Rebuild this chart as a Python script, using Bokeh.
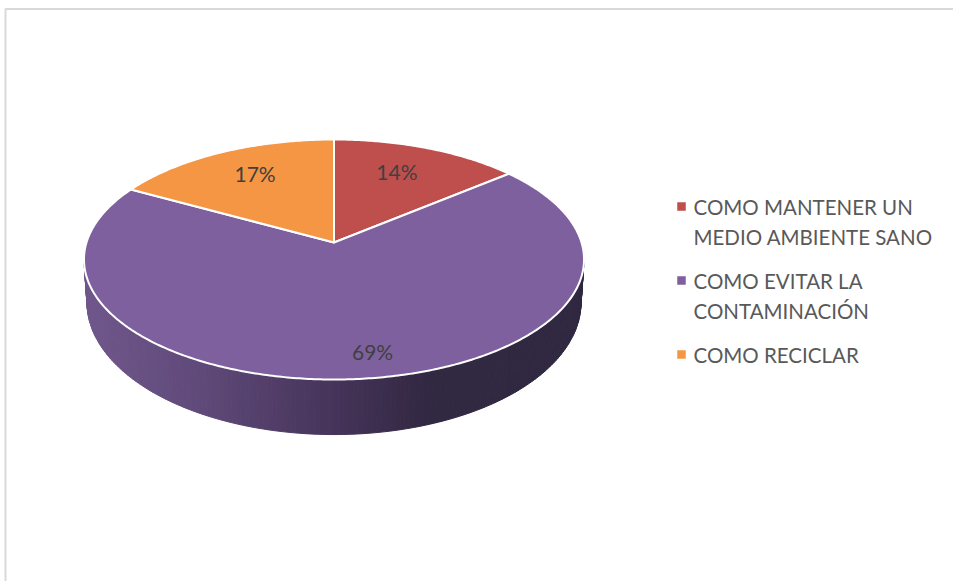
import numpy as np
from bokeh.plotting import figure
from bokeh.embed import file_html
from bokeh.resources import INLINE
from bokeh.core.properties import value

categories = ["COMO MANTENER UN MEDIO AMBIENTE SANO", "COMO EVITAR LA CONTAMINACIÓN", "COMO RECICLAR"]
legend_lines = [["COMO MANTENER UN", "MEDIO AMBIENTE SANO"], ["COMO EVITAR LA", "CONTAMINACIÓN"], ["COMO RECICLAR"]]
values = [14, 69, 17]
labels = ["14%", "69%", "17%"]
colors = ["#BE4F4D", "#7F609E", "#F59645"]

W, H = 953, 581
CX = 334.5
K = 0.1417


def project(theta, r=1.0, level="top"):
    """theta clockwise from the far point of the disc, r radial fraction."""
    u = r * np.sin(theta)
    v = r * np.cos(theta)
    w = 1 + K * v
    if level == "top":
        A, a, b = 247.5, 117.6, 243.0
    else:
        A, a, b = 244.5, 129.4, 284.3
    return CX + A * u / w, b - a * v / w


p = figure(width=W, height=H, x_range=(1, W + 1), y_range=(H + 1, 1), output_backend="svg",
           toolbar_location=None, min_border=0, outline_line_color=None,
           background_fill_color="white", border_fill_color="white")
p.xaxis.visible = False
p.yaxis.visible = False
p.xgrid.visible = False
p.ygrid.visible = False

# frame of the chart area
p.line([6, 6, W + 1], [H + 1, 9.5, 9.5], line_color="#D9D9D9", line_width=2)

# side wall with horizontal gradient
stop_x = [84, 200, 334, 430, 585]
stop_r = [112, 96, 70, 50, 48]
stop_g = [87, 74, 52, 40, 40]
stop_b = [140, 122, 90, 66, 64]
edges = np.radians(np.linspace(98.2, 261.8, 171))
xs, ys, cs = [], [], []
for t0, t1 in zip(edges[:-1], edges[1:]):
    xa, ya = project(t0)
    xb, yb = project(t1)
    xc, yc = project(t1, level="bottom")
    xd, yd = project(t0, level="bottom")
    xm = (xa + xb + xc + xd) / 4
    c = (int(np.interp(xm, stop_x, stop_r)), int(np.interp(xm, stop_x, stop_g)), int(np.interp(xm, stop_x, stop_b)))
    xs.append([xa, xb, xc, xd])
    ys.append([ya, yb, yc, yd])
    cs.append("#%02x%02x%02x" % c)
p.patches(xs, ys, fill_color=cs, line_color=cs, line_width=1)

# top of the pie, from the values
total = sum(values)
start = 0.0
mids = []
wx, wy = [], []
for v in values:
    end = start + 2 * np.pi * v / total
    th = np.linspace(start, end, max(int(v * 6), 12))
    ax, ay = project(th)
    ox, oy = project(0.0, 0.0)
    wx.append([ox] + list(ax))
    wy.append([oy] + list(ay))
    mids.append((start + end) / 2)
    start = end
p.patches(wx, wy, fill_color=colors, line_color="white", line_width=2, line_join="round")

# data labels
label_r = [0.68, 0.82, 0.66]
nudge_x = [-3, 17, -2]
nudge_y = [-4, 0, -7]
lx, ly = [], []
for m, r, dx, dy in zip(mids, label_r, nudge_x, nudge_y):
    x, y = project(m, r)
    lx.append(x + dx)
    ly.append(y + dy)
p.text(lx, ly, text=labels, text_font=value("Lato"), text_font_size="21px", text_color="#404040",
       text_align="center", text_baseline="middle")

# legend
line_y = 207
gap_line, gap_item = 30, 44
mk_y, txt_x, txt_y, txt = [], [], [], []
y = line_y
for lines in legend_lines:
    mk_y.append(y)
    for t in lines:
        txt_x.append(694)
        txt_y.append(y)
        txt.append(t)
        y += gap_line
    y += gap_item - gap_line
p.scatter([682] * len(mk_y), mk_y, marker="square", size=8, fill_color=colors, line_color=colors, line_width=0.5)
p.text(txt_x, txt_y, text=txt, text_font=value("Lato"), text_font_size="20.5px", text_color="#595959",
       text_align="left", text_baseline="middle")

open("out.html", "w").write(file_html(p, INLINE))
